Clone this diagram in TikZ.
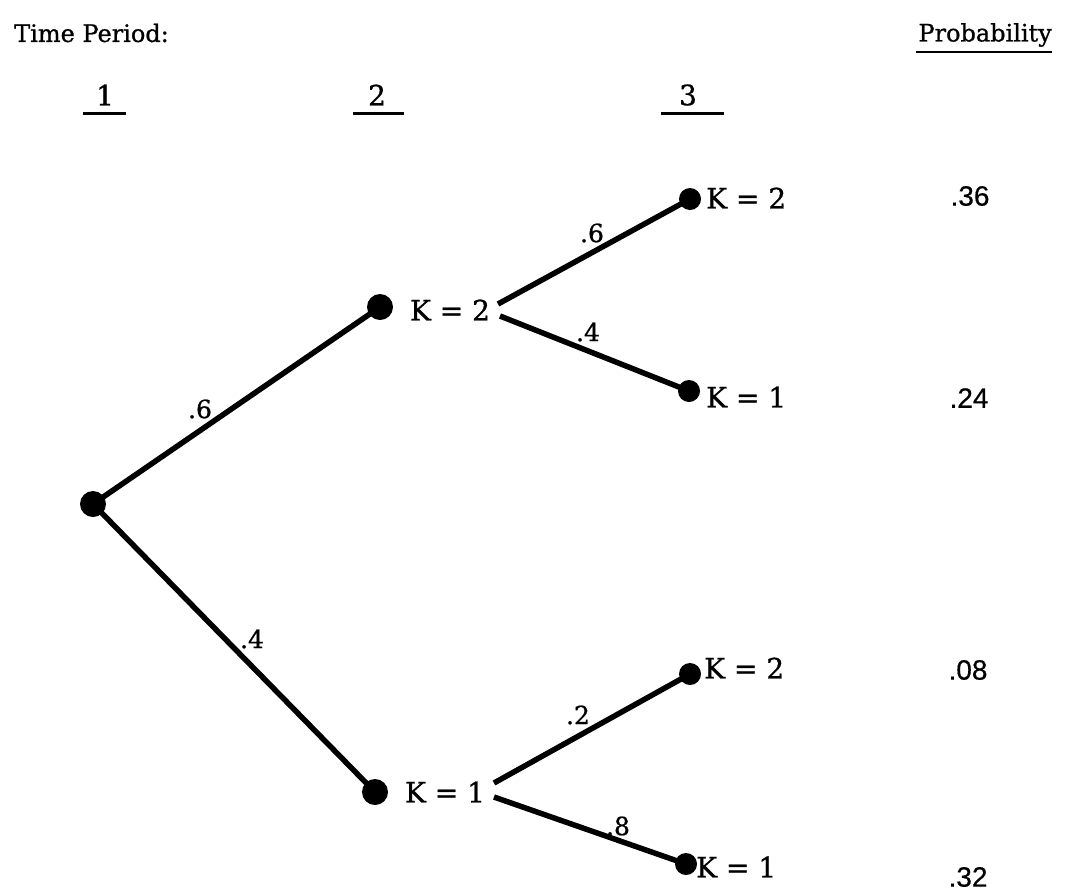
\documentclass[tikz,border=0pt]{standalone}
\usepackage{fontspec}
\setmainfont{DejaVu Serif}[FakeBold=0.9]
\newfontfamily\probfont{Liberation Sans}[FakeBold=0.5]
\begin{document}
\begin{tikzpicture}[x=1pt,y=-1pt,
  bigdot/.style={circle,fill=black,inner sep=0pt,minimum size=26pt},
  leafdot/.style={circle,fill=black,inner sep=0pt,minimum size=22pt},
  branch/.style={line width=5.5pt},
  klabel/.style={font=\fontsize{28}{32}\selectfont,inner sep=0pt},
  elabel/.style={font=\fontsize{25}{30}\selectfont,inner sep=0pt},
  hdr/.style={font=\fontsize{24}{28}\selectfont,inner sep=0pt},
  colnum/.style={font=\fontsize{28}{32}\selectfont,inner sep=0pt},
  prob/.style={font=\probfont\fontsize{28}{32}\selectfont,inner sep=0pt},
  uline/.style={line width=3pt}]
\useasboundingbox (0,0) rectangle (1068,892);

% headers
\node[hdr,anchor=west] (tp) at (14,33) {Time Period:};
\node[hdr,anchor=east] (ph) at (1052,35) {Probability};
\coordinate (phl) at (916,52);
\coordinate (phr) at (1052,52);
\draw[line width=2pt] (phl) -- (phr);
\node[colnum] (c1) at (105,95) {1};
\node[colnum] (c2) at (377,95) {2};
\node[colnum] (c3) at (688,95) {3};
\coordinate (u1a) at (83,113); \coordinate (u1b) at (126,113);
\coordinate (u2a) at (353,113); \coordinate (u2b) at (404,113);
\coordinate (u3a) at (661,113); \coordinate (u3b) at (724,113);
\draw[uline] (u1a) -- (u1b);
\draw[uline] (u2a) -- (u2b);
\draw[uline] (u3a) -- (u3b);

% nodes
\node[bigdot] (root) at (93,504) {};
\node[bigdot] (n2a) at (380,307) {};
\node[klabel] (l2a) at (450,310) {K = 2};
\node[bigdot] (n2b) at (375,792) {};
\node[klabel] (l2b) at (445,792) {K = 1};

\node[leafdot] (f1) at (690,199) {};
\node[klabel,anchor=west] (lf1) at (706,198) {K = 2};
\node[leafdot] (f2) at (689,391) {};
\node[klabel,anchor=west] (lf2) at (706,397) {K = 1};
\node[leafdot] (f3) at (690,674) {};
\node[klabel,anchor=west] (lf3) at (704,668) {K = 2};
\node[leafdot] (f4) at (686,864) {};
\node[klabel,anchor=west] (lf4) at (696,867) {K = 1};

% branch start points beside the level-2 labels
\coordinate (s2a1) at (498,304);
\coordinate (s2a2) at (500,316);
\coordinate (s2b1) at (494,783);
\coordinate (s2b2) at (494,797);

% branches
\draw[branch] (root.center) -- (n2a.center);
\draw[branch] (root.center) -- (n2b.center);
\draw[branch] (s2a1) -- (f1.center);
\draw[branch] (s2a2) -- (f2.center);
\draw[branch] (s2b1) -- (f3.center);
\draw[branch] (s2b2) -- (f4.center);

% branch labels
\node[elabel] (e1) at (200,409) {.6};
\node[elabel] (e2) at (252,639) {.4};
\node[elabel] (e3) at (592,233) {.6};
\node[elabel] (e4) at (588,332) {.4};
\node[elabel] (e5) at (578,715) {.2};
\node[elabel] (e6) at (618,826) {.8};

% probabilities
\node[prob] (p1) at (970,196) {.36};
\node[prob] (p2) at (969,398) {.24};
\node[prob] (p3) at (968,670) {.08};
\node[prob] (p4) at (968,877) {.32};
\end{tikzpicture}
\end{document}
